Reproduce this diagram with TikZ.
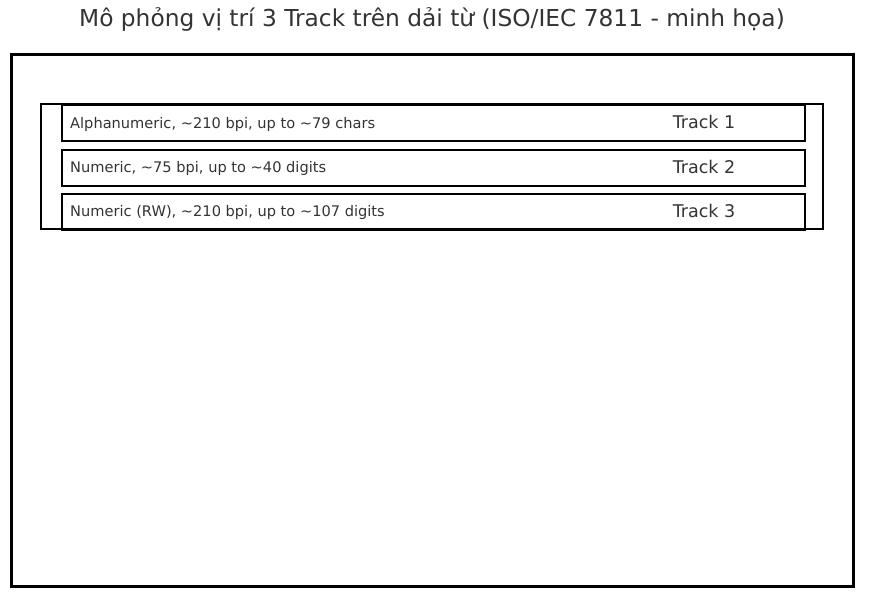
\documentclass[tikz,border=0pt]{standalone}
\usepackage{fontspec}
\setmainfont{DejaVu Sans}
\definecolor{txt}{HTML}{333333}
\newcommand{\tld}{\char126\relax}
\begin{document}
\begin{tikzpicture}[x=1pt,y=-1pt,
  trackbox/.style={draw=black,line width=2pt,minimum width=743pt,minimum height=36pt,inner sep=0pt,anchor=north west},
  desc/.style={text=txt,font=\fontsize{14.6}{17}\selectfont,anchor=base west,inner sep=0pt},
  tlabel/.style={text=txt,font=\fontsize{17.5}{20}\selectfont,anchor=base,inner sep=0pt}]
\useasboundingbox (0,0) rectangle (870,596);
\node[text=txt,font=\fontsize{23.3}{27}\selectfont,inner sep=0pt] (title) at (432,19.5) {Mô phỏng vị trí 3 Track trên dải từ (ISO/IEC 7811 - minh họa)};
\draw[line width=3pt] (11,55) rectangle (853,586);
\draw[line width=2pt] (41,104) rectangle (823,229);
\node[trackbox] (t1) at (61,104) {};
\node[trackbox] (t2) at (61,149) {};
\node[trackbox] (t3) at (61,193) {};
\node[desc] (d1) at (70,128.5) {Alphanumeric, \tld210 bpi, up to \tld79 chars};
\node[desc] (d2) at (70,172.5) {Numeric, \tld75 bpi, up to \tld40 digits};
\node[desc] (d3) at (70,217) {Numeric (RW), \tld210 bpi, up to \tld107 digits};
\node[tlabel] (l1) at (704,129) {Track 1};
\node[tlabel] (l2) at (704,173.2) {Track 2};
\node[tlabel] (l3) at (704,217.5) {Track 3};
\end{tikzpicture}
\end{document}
